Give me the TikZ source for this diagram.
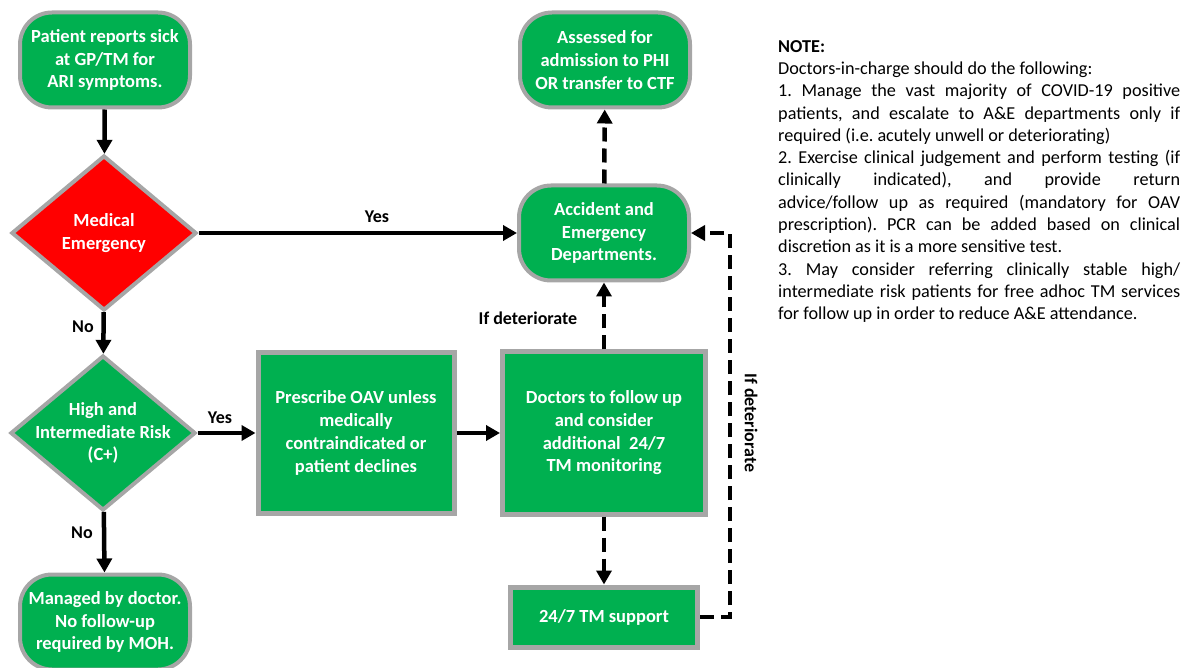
\documentclass[tikz,border=0pt]{standalone}
\usepackage{fontspec}
\setmainfont{Carlito}
\usetikzlibrary{shapes.geometric,arrows.meta}
\definecolor{boxgreen}{HTML}{00B050}
\definecolor{boxred}{HTML}{FF0000}
\definecolor{rimgray}{HTML}{A6A6A6}
\tikzset{
  boxfont/.style={font=\fontsize{18.5}{22.7}\selectfont\bfseries, text=white, align=center},
  terminal/.style={boxfont, rectangle, rounded corners=32pt, fill=boxgreen, draw=rimgray, line width=4pt, minimum width=170pt, minimum height=95pt, inner sep=2pt},
  process/.style={boxfont, rectangle, fill=boxgreen, draw=rimgray, line width=5pt, inner sep=2pt},
  decision/.style={diamond, draw=rimgray, line width=4pt, minimum width=185pt, minimum height=155pt, inner sep=0pt},
  arr/.style={-{Triangle[length=14pt,width=15pt]}, line width=4.5pt},
  dasharr/.style={arr, dash pattern=on 14pt off 7pt},
  lbl/.style={font=\fontsize{18}{21}\selectfont\bfseries}
}
\begin{document}
\frenchspacing
\begin{tikzpicture}[x=1pt, y=-1pt]
  \useasboundingbox (0,0) rectangle (1189,668);

  % left column
  \node[terminal] (start) at (105,60) {Patient reports sick\\at GP/TM for\\ARI symptoms.};
  \node[decision, fill=boxred, label={[boxfont]center:{Medical\\Emergency}}] (emerg) at (104,233) {};
  \node[decision, fill=boxgreen, label={[boxfont]center:{High and\\Intermediate Risk\\(C+)}}] (risk) at (103,433) {};
  \node[terminal] (managed) at (105,622) {Managed by doctor.\\No follow-up\\required by MOH.};

  % middle row
  \node[process, minimum width=196pt, minimum height=160pt] (oav) at (356,433) {Prescribe OAV unless\\medically\\contraindicated or\\patient declines};
  \node[process, minimum width=203pt, minimum height=162pt] (followup) at (604,433) {Doctors to follow up\\and consider\\additional~~24/7\\TM monitoring};
  \node[process, minimum width=187pt, minimum height=60pt] (tmsupport) at (604,617) {24/7 TM support};

  % right column
  \node[terminal] (ae) at (604,233) {Accident and\\Emergency\\Departments.};
  \node[terminal] (admit) at (605,60) {Assessed for\\admission to PHI\\OR transfer to CTF};
  \coordinate (loop) at (730,617);

  \draw[arr] (start) -- (emerg);
  \draw[arr] (emerg) -- (risk);
  \draw[arr] (risk) -- (managed);
  \draw[arr] (risk) -- (oav);
  \draw[arr] (oav) -- (followup);
  \draw[arr] (emerg) -- (ae);
  \draw[dasharr] (followup) -- (ae);
  \draw[dasharr] (ae) -- (admit);
  \draw[dasharr] (followup) -- (tmsupport);
  \draw[dasharr] (tmsupport.east) -- (loop) |- (ae.east);

  \node[lbl] (yesA) at (377,217) {Yes};
  \node[lbl] (noA) at (83,327) {No};
  \node[lbl] (yesB) at (220,418) {Yes};
  \node[lbl] (noB) at (82,533) {No};
  \node[lbl] (detA) at (528,318) {If deteriorate};
  \node[lbl, rotate=-90] (detB) at (751,423) {If deteriorate};

  % note
  \node[anchor=north west, inner sep=0pt, text width=402pt, align=justify,
        font=\fontsize{18.2}{22.3}\selectfont] (note) at (778,40) {%
    \textbf{NOTE:}\par
    Doctors-in-charge should do the following:\par
    1. Manage the vast majority of COVID-19 positive\linebreak
    patients, and escalate to A\&E departments only if\linebreak
    required (i.e. acutely unwell or deteriorating)\par
    2. Exercise clinical judgement and perform testing (if\linebreak
    clinically indicated), and provide return\linebreak
    advice/follow up as required (mandatory for OAV\linebreak
    prescription). PCR can be added based on clinical\linebreak
    discretion as it is a more sensitive test.\par
    3. May consider referring clinically stable high/\linebreak
    intermediate risk patients for free adhoc TM services\linebreak
    for follow up in order to reduce A\&E attendance.};
\end{tikzpicture}
\end{document}
